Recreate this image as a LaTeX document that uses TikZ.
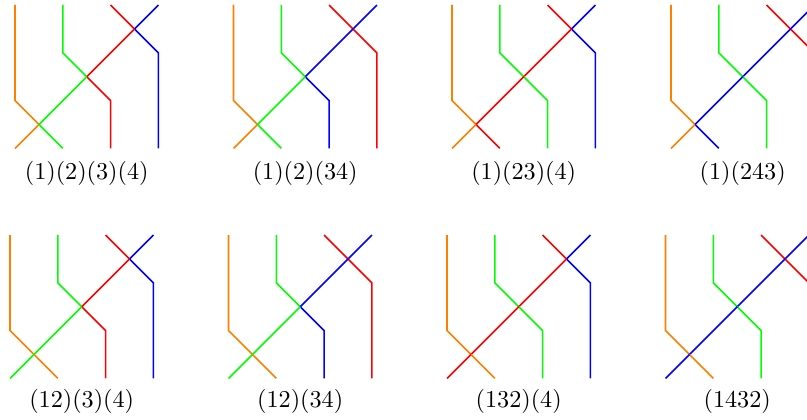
\documentclass[tikz,border=0pt]{standalone}
\usepackage{tikz}
\definecolor{borange}{RGB}{255,128,0}
\definecolor{bgreen}{RGB}{0,255,0}
\definecolor{bred}{RGB}{255,0,0}
\definecolor{bblue}{RGB}{0,0,255}
\tikzset{strand/.style={line width=1.6pt},
  perm/.style={scale=2.42, inner sep=0pt}}
% #1 x, #2 y, #3 E, #4 F, #5 G, #6 H, #7 I, #8 J
\newcommand\braidpanel[8]{%
  \begin{scope}[shift={(#1,#2)}]
    \def\dd{47.8}
    \coordinate (c3) at (2.5*\dd,0.5*\dd);
    \coordinate (c2) at (1.5*\dd,1.5*\dd);
    \coordinate (c1) at (0.5*\dd,2.5*\dd);
    \draw[strand,borange] (0,0) -- (0,2*\dd) -- (c1);
    \draw[strand,bgreen] (\dd,0) -- (\dd,\dd) -- (c2);
    \draw[strand,bred] (2*\dd,0) -- (c3);
    \draw[strand,bblue] (3*\dd,0) -- (c3);
    \draw[strand,#3] (c3) -- (3*\dd,\dd) -- (3*\dd,3*\dd);
    \draw[strand,#4] (c3) -- (c2);
    \draw[strand,#5] (c2) -- (2*\dd,2*\dd) -- (2*\dd,3*\dd);
    \draw[strand,#6] (c2) -- (c1);
    \draw[strand,#7] (c1) -- (\dd,3*\dd);
    \draw[strand,#8] (c1) -- (0,3*\dd);
  \end{scope}}
\begin{document}
\begin{tikzpicture}[x=1pt,y=-1pt]
\useasboundingbox (0,0) rectangle (807,420);
\clip (0,0) rectangle (807,420);
\braidpanel{15}{5}{bblue}{bred}{bred}{bgreen}{bgreen}{borange}
\braidpanel{233.5}{5}{bred}{bblue}{bblue}{bgreen}{bgreen}{borange}
\braidpanel{452}{5}{bblue}{bred}{bgreen}{bred}{bred}{borange}
\braidpanel{671}{5}{bred}{bblue}{bgreen}{bblue}{bblue}{borange}
\braidpanel{10}{235}{bblue}{bred}{bred}{bgreen}{borange}{bgreen}
\braidpanel{228.5}{235}{bred}{bblue}{bblue}{bgreen}{borange}{bgreen}
\braidpanel{447}{235}{bblue}{bred}{bgreen}{bred}{borange}{bred}
\braidpanel{665.5}{235}{bred}{bblue}{bgreen}{bblue}{borange}{bblue}
\node[perm] (lab1) at (86.7,173.5) {(1)(2)(3)(4)};
\node[perm] (lab2) at (305.2,173.5) {(1)(2)(34)};
\node[perm] (lab3) at (523.7,173.5) {(1)(23)(4)};
\node[perm] (lab4) at (742.7,173.5) {(1)(243)};
\node[perm] (lab5) at (81.7,401) {(12)(3)(4)};
\node[perm] (lab6) at (300.2,401) {(12)(34)};
\node[perm] (lab7) at (518.7,401) {(132)(4)};
\node[perm] (lab8) at (737.2,401) {(1432)};
\end{tikzpicture}
\end{document}
